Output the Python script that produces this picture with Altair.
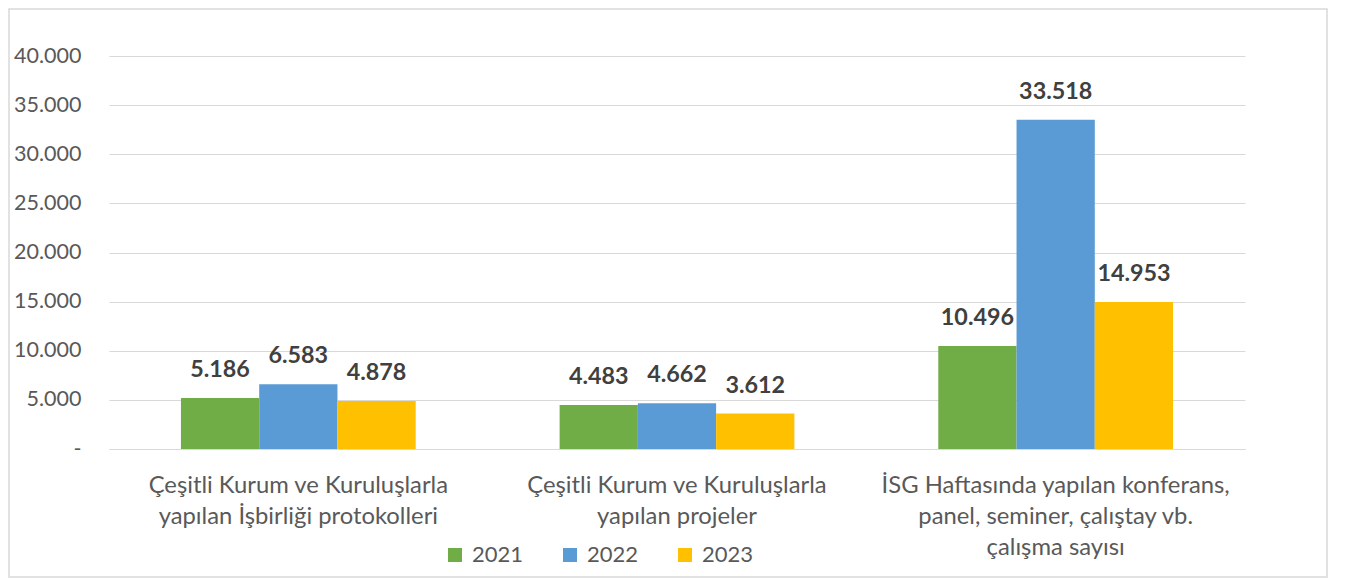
import altair as alt
import pandas as pd

categories = [
    "Çeşitli Kurum ve Kuruluşlarla\nyapılan İşbirliği protokolleri",
    "Çeşitli Kurum ve Kuruluşlarla\nyapılan projeler",
    "İSG Haftasında yapılan konferans,\npanel, seminer, çalıştay vb.\nçalışma sayısı",
]
years = ["2021", "2022", "2023"]
values_2021 = [5186, 4483, 10496]
values_2022 = [6583, 4662, 33518]
values_2023 = [4878, 3612, 14953]
colors = ["#70AD47", "#5B9BD5", "#FFC000"]
y_ticks = [0, 5000, 10000, 15000, 20000, 25000, 30000, 35000, 40000]

rows = []
for yr, vals in zip(years, [values_2021, values_2022, values_2023]):
    for c, v in zip(categories, vals):
        rows.append({"category": c, "year": yr, "value": v})
df = pd.DataFrame(rows)

W, H = 1136, 393
PL, PT, PR, PB = 101, 48, 92, 129

x_enc = alt.X(
    "category:N",
    sort=categories,
    scale=alt.Scale(paddingInner=0.38, paddingOuter=0.19),
    axis=alt.Axis(
        title=None,
        labelAngle=0,
        labelFontSize=23.8,
        labelColor="#595959",
        labelLineHeight=31,
        labelPadding=24,
        labelLimit=500,
        labelExpr="split(datum.label, '\\n')",
        ticks=False,
        domainColor="#d9d9d9",
        domainWidth=1,
    ),
)

base = alt.Chart(df).encode(
    x=x_enc,
    xOffset=alt.XOffset("year:N", sort=years, scale=alt.Scale(paddingInner=0, paddingOuter=0)),
)

bars = base.mark_bar().encode(
    y=alt.Y(
        "value:Q",
        scale=alt.Scale(domain=[0, 40000], nice=False),
        axis=alt.Axis(
            title=None,
            values=y_ticks,
            labelExpr="datum.value == 0 ? '-\u00a0\u00a0' : replace(format(datum.value, ','), ',', '.')",
            labelFontSize=21.5,
            labelColor="#595959",
            labelPadding=28,
            ticks=False,
            domain=False,
            grid=True,
            gridColor="#d9d9d9",
            gridWidth=1,
        ),
    ),
    color=alt.Color(
        "year:N",
        sort=years,
        scale=alt.Scale(domain=years, range=colors),
        legend=alt.Legend(
            title=None,
            orient="none",
            direction="horizontal",
            legendX=335,
            legendY=488,
            symbolType="square",
            symbolSize=196,
            symbolStrokeWidth=0,
            labelFontSize=22,
            labelColor="#595959",
            labelOffset=6,
            columnPadding=35,
            padding=0,
        ),
    ),
)

labels = base.mark_text(
    dy=-28, baseline="middle", fontSize=23.3, fontWeight="bold", color="#404040"
).transform_calculate(
    lbl="replace(format(datum.value, ','), ',', '.')"
).encode(
    y=alt.Y("value:Q"),
    text="lbl:N",
)

border = alt.Chart(pd.DataFrame({"a": [0]})).mark_rect(
    filled=False, stroke="#d9d9d9", strokeWidth=1.5
).encode(
    x=alt.value(-PL + 1),
    x2=alt.value(1218),
    y=alt.value(-PT + 1),
    y2=alt.value(H + PB - 1),
)

chart = alt.layer(bars, labels, border).properties(
    width=W,
    height=H,
    padding={"left": PL, "top": PT, "right": PR, "bottom": PB},
    autosize=alt.AutoSizeParams(type="none"),
).configure(
    font="Lato",
).configure_view(stroke=None)

chart.save("out.html", embed_options={"renderer": "svg", "actions": False})
